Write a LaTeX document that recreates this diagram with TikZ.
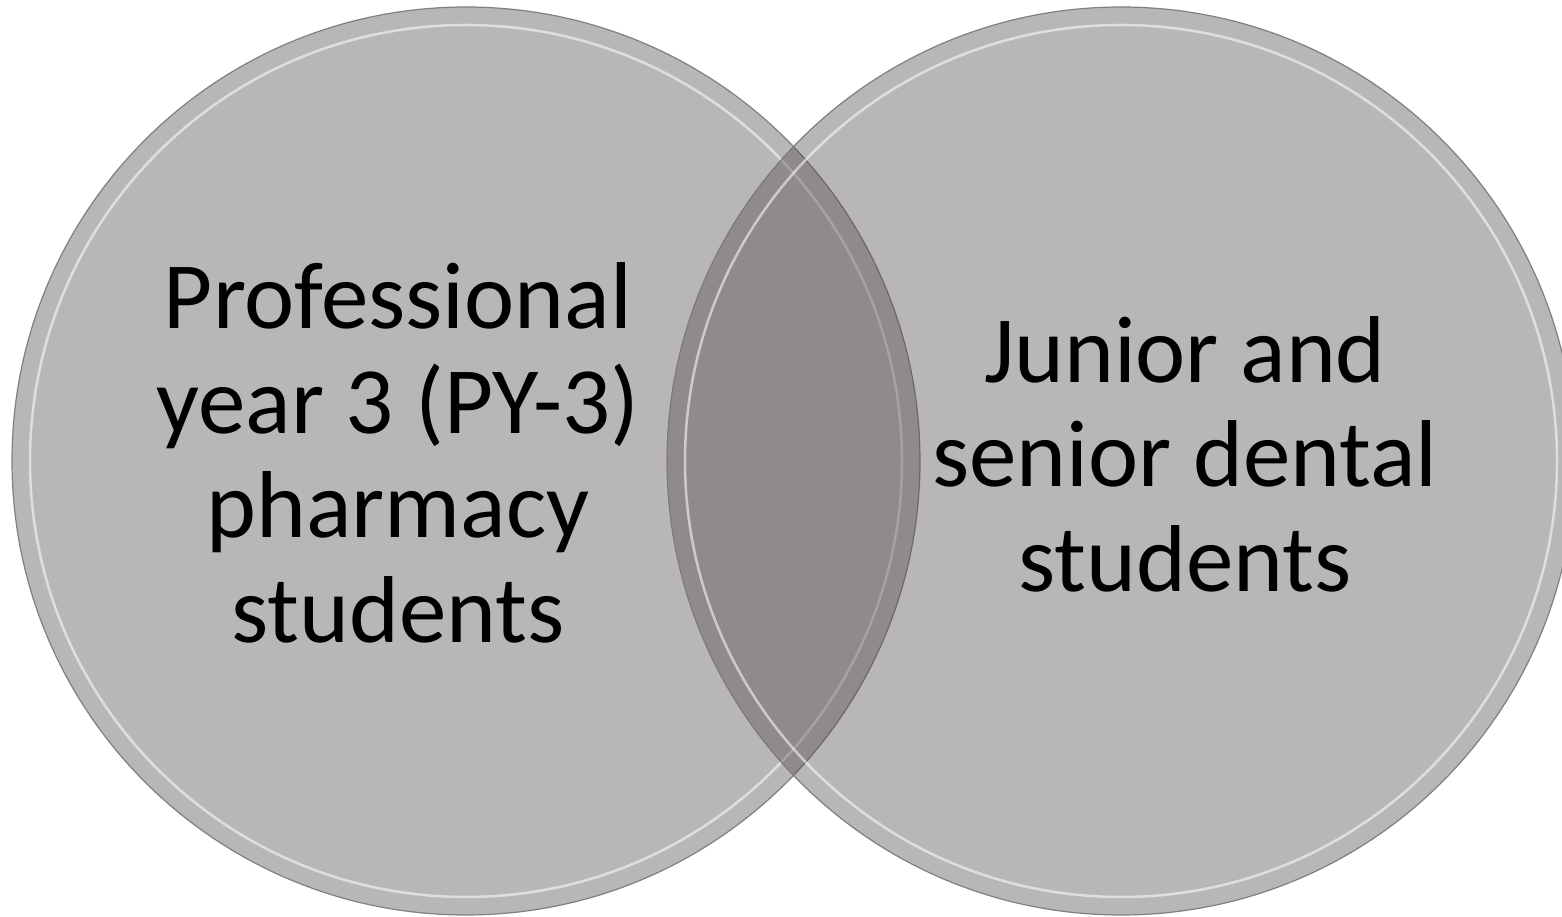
\documentclass[tikz,border=0pt]{standalone}
\usepackage{fontspec}
\setmainfont{Carlito}
\definecolor{discfill}{RGB}{80,73,73}
\definecolor{discedge}{RGB}{120,118,118}
\tikzset{
  disc/.style={circle, minimum size=908pt, inner sep=0pt, fill=discfill, fill opacity=0.4, draw=discedge, line width=1.2pt, draw opacity=0.9},
  discglow/.style={circle, minimum size=872pt, inner sep=0pt, draw=white, line width=2.5pt, draw opacity=0.55},
  disclabel/.style={align=center, text=black, inner sep=0pt, font=\fontsize{95}{104.5}\selectfont}
}
\begin{document}
\begin{tikzpicture}[x=1pt,y=1pt]
\useasboundingbox (0,0) rectangle (1562,917);
\node[disc] (left) at (466,456) {};
\node[discglow] (leftglow) at (466,456) {};
\node[disc] (right) at (1121,456) {};
\node[discglow] (rightglow) at (1121,456) {};
\node[disclabel] (lefttext) at (398,464) {Professional\\year 3 (PY-3)\\pharmacy\\students};
\node[disclabel] (righttext) at (1185,463) {Junior and\\senior dental\\students};
\end{tikzpicture}
\end{document}
